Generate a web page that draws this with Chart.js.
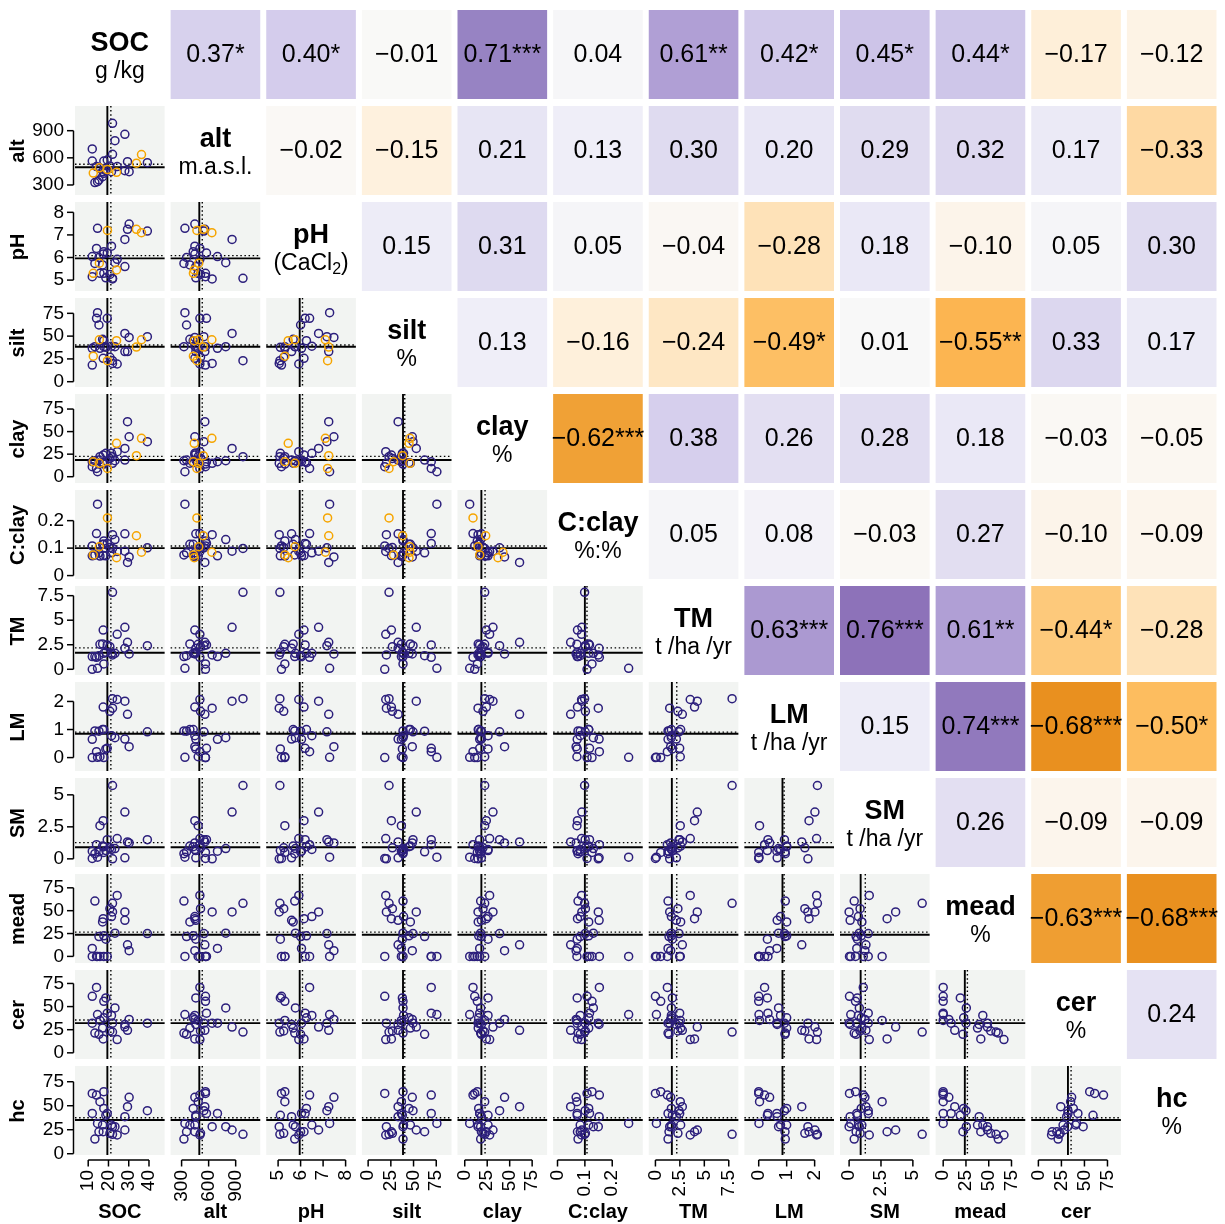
<!DOCTYPE html>
<html>
<head>
<meta charset="utf-8">
<script src="https://cdn.jsdelivr.net/npm/chart.js@4.4.1/dist/chart.umd.min.js"></script>
<style>
  html, body { margin: 0; padding: 0; background: #fff; }
  #wrap { width: 1225px; height: 1224px; }
</style>
</head>
<body>
<div id="wrap"><canvas id="pairs-chart" width="1225" height="1224"></canvas></div>
<script>
const VARS = ['SOC', 'alt', 'pH', 'silt', 'clay', 'C:clay', 'TM', 'LM', 'SM', 'mead', 'cer', 'hc'];
const UNITS = ['g /kg', 'm.a.s.l.', '(CaCl2)', '%', '%', '%:%', 't /ha /yr', 't /ha /yr', 't /ha /yr', '%', '%', '%'];

// 24 sites with full data, then 6 sites (orange) with soil data only
const group = [0,0,0,0,0,0,0,0,0,0, 0,0,0,0,0,0,0,0,0,0, 0,0,0,0, 1,1,1,1,1,1];

const SOC   = [12.0,12.0,13.3,14.1,14.6,15.3,15.8,17.1,17.4,17.7, 17.7,18.7,19.4,20.7,21.5,22.0,22.0,23.2,24.3,28.1, 28.1,29.4,30.2,39.2, 12.5,15.5,19.5,24.0,33.8,36.3];
const alt   = [698,565,326,503,337,355,484,392,447,429, 565,458,576,510,447,981,639,790,503,860, 458,558,447,547, 431,490,470,440,541,636];
const pH    = [6.04,5.15,5.74,6.4,7.29,6.0,5.3,5.67,6.15,6.26, 5.3,5.1,6.2,5.25,6.5,5.08,5.05,5.77,5.92,6.8, 5.6,7.25,7.48,7.17, 5.3,5.75,7.2,5.45,7.25,7.1];
const silt  = [36.6,18.3,38.4,69.5,75.7,62.2,36.6,46.5,25.6,45, 38.4,37.7,69.5,26.7,39,23,20.1,38.4,19.4,53, 33,33,48.6,49.4, 28,46,23,45,38,46];
const clay  = [16.6,11.1,17.7,9.2,5.5,18.5,22.2,15,24,15.5, 14,25.9,16.6,20.3,25.9,22.2,14.8,17.7,27.7,31.4, 18.5,61,44.3,38.8, 16.6,14.8,9.2,37,23.3,42.5];
const Cclay = [0.072,0.108,0.075,0.153,0.26,0.083,0.071,0.114,0.073,0.114, 0.126,0.072,0.117,0.102,0.083,0.099,0.149,0.131,0.088,0.089, 0.152,0.048,0.068,0.101, 0.075,0.105,0.21,0.065,0.145,0.085];
const TM    = [1.29,0.0,1.29,1.22,0.1,1.39,2.54,2.58,4.0,1.63, 0.54,1.73,2.48,2.3,1.63,7.84,1.46,1.63,3.56,4.28, 2.14,2.75,1.56,2.41, null,null,null,null,null,null];
const LM    = [0.65,0,0.95,0.21,0.01,0.94,0.03,1.0,1.8,1.0, 0,0.31,0.33,1.65,0.78,2.1,1.76,0.71,2.07,2.01, 0.66,1.54,0.39,0.92, null,null,null,null,null,null];
const SM    = [0.6,0.03,0.4,1.11,0.13,0.55,2.59,1.0,2.98,0.95, 0.5,0.65,1.5,0.86,0.73,5.73,0,0.8,1.58,3.65, 0.08,1.32,1.24,1.5, null,null,null,null,null,null];
const mead  = [8.7,0,60.5,0,0,21.7,0,37.7,41.3,22.5, 0,18.8,0,52.2,43.5,58,48.6,25.4,66.7,48.6, 39.5,12.7,6.2,25, null,null,null,null,null,null];
const cer   = [32.1,61.1,21.4,70.7,41.4,20.0,35,26.8,15,37.9, 55.7,59.3,42.9,23.6,40.4,22.5,32,48.6,14.3,27.9, 30.7,24.3,36.1,32.1, null,null,null,null,null,null];
const hc    = [42,62.8,15.3,61.1,31.6,22.9,54.2,29.9,22.9,47.2, 64.6,40,42,21.2,29.9,20.2,28.2,28.2,19.5,24.7, 38.6,49,58.7,44.8, null,null,null,null,null,null];

const columns = [SOC, alt, pH, silt, clay, Cclay, TM, LM, SM, mead, cer, hc];

// axis ranges and tick labels
const axisMin = [2, 145, 4.34, -10.2, -11.4, -0.027, -0.99, -0.62, -0.95, -11.6, -11, -5.5];
const axisMax = [49.2, 1206, 8.59, 95.1, 95, 0.3225, 8.79, 2.80, 6.55, 93.4, 92.8, 94.5];
const tickVals = [
  [10, 20, 30, 40], [300, 600, 900], [5, 6, 7, 8], [0, 25, 50, 75], [0, 25, 50, 75], [0, 0.1, 0.2],
  [0, 2.5, 5, 7.5], [0, 1, 2], [0, 2.5, 5], [0, 25, 50, 75], [0, 25, 50, 75], [0, 25, 50, 75]
];

// correlations, upper triangle, row by row
const corrR = [
  [0.37, 0.40, -0.01, 0.71, 0.04, 0.61, 0.42, 0.45, 0.44, -0.17, -0.12],
  [-0.02, -0.15, 0.21, 0.13, 0.30, 0.20, 0.29, 0.32, 0.17, -0.33],
  [0.15, 0.31, 0.05, -0.04, -0.28, 0.18, -0.10, 0.05, 0.30],
  [0.13, -0.16, -0.24, -0.49, 0.01, -0.55, 0.33, 0.17],
  [-0.62, 0.38, 0.26, 0.28, 0.18, -0.03, -0.05],
  [0.05, 0.08, -0.03, 0.27, -0.10, -0.09],
  [0.63, 0.76, 0.61, -0.44, -0.28],
  [0.15, 0.74, -0.68, -0.50],
  [0.26, -0.09, -0.09],
  [-0.63, -0.68],
  [0.24]
];
const corrStars = [
  ['*', '*', '', '***', '', '**', '*', '*', '*', '', ''],
  ['', '', '', '', '', '', '', '', '', ''],
  ['', '', '', '', '', '', '', '', ''],
  ['', '', '', '*', '', '**', '', ''],
  ['***', '', '', '', '', '', ''],
  ['', '', '', '', '', ''],
  ['***', '***', '**', '*', ''],
  ['', '***', '***', '*'],
  ['', '', ''],
  ['***', '***'],
  ['']
];

const FONT = '"Liberation Sans", Arial, Helvetica, sans-serif';
const NAVY = '#2c1f7c';
const ORANGE = '#f6a500';
const CELL_BG = '#f2f4f2';
const COLOR_STOPS = [
  [-0.70, [230, 138, 23]], [-0.62, [240, 161, 54]], [-0.55, [252, 181, 81]], [-0.50, [253, 189, 95]],
  [-0.44, [253, 201, 123]], [-0.33, [254, 217, 163]], [-0.28, [254, 226, 184]], [-0.17, [254, 239, 217]],
  [-0.09, [252, 245, 236]], [0, [249, 249, 248]], [0.13, [239, 238, 248]], [0.30, [223, 219, 240]],
  [0.40, [212, 204, 236]], [0.45, [205, 196, 232]], [0.61, [176, 159, 213]], [0.71, [151, 131, 195]],
  [0.76, [141, 114, 185]]
];

function corrColor(r) {
  if (r <= COLOR_STOPS[0][0]) return `rgb(${COLOR_STOPS[0][1].join(',')})`;
  for (let k = 1; k < COLOR_STOPS.length; k++) {
    const [r1, c1] = COLOR_STOPS[k];
    const [r0, c0] = COLOR_STOPS[k - 1];
    if (r <= r1) {
      const t = (r - r0) / (r1 - r0);
      const c = c0.map((v, n) => Math.round(v + (c1[n] - v) * t));
      return `rgb(${c.join(',')})`;
    }
  }
  return `rgb(${COLOR_STOPS[COLOR_STOPS.length - 1][1].join(',')})`;
}

function median(arr) {
  const s = arr.filter(v => v != null).sort((a, b) => a - b);
  const n = s.length;
  return n % 2 ? s[(n - 1) / 2] : (s[n / 2 - 1] + s[n / 2]) / 2;
}
function mean(arr) {
  const s = arr.filter(v => v != null);
  return s.reduce((a, b) => a + b, 0) / s.length;
}
const medians = columns.map(median);
const means = columns.map(mean);

// one scatter dataset per lower panel
const datasets = [];
for (let i = 1; i < 12; i++) {
  for (let j = 0; j < i; j++) {
    const pts = [];
    for (let k = 0; k < group.length; k++) {
      const xv = columns[j][k];
      const yv = columns[i][k];
      if (xv == null || yv == null) continue;
      pts.push({ x: xv, y: yv, g: group[k] });
    }
    datasets.push({
      data: pts,
      xAxisID: 'x' + j,
      yAxisID: 'y' + i,
      pointRadius: 4,
      pointHoverRadius: 4,
      pointBorderWidth: 1.5,
      pointBackgroundColor: 'rgba(0,0,0,0)',
      pointBorderColor: ctx => (ctx.raw && ctx.raw.g ? ORANGE : NAVY),
    });
  }
}

const scales = {};
for (let i = 0; i < 12; i++) {
  scales['y' + i] = {
    type: 'linear',
    position: 'left',
    stack: 'rows',
    stackWeight: 1,
    weight: 11 - i,
    min: axisMin[i],
    max: axisMax[i],
    afterFit: s => { s.width = 72; s.paddingTop = 0; s.paddingBottom = 0; },
    afterBuildTicks: s => { s.ticks = tickVals[i].map(v => ({ value: v })); },
    ticks: {
      display: i > 0,
      autoSkip: false,
      color: '#000',
      padding: 1,
      font: { size: 19, family: FONT },
      callback: v => String(v),
    },
    grid: { display: i > 0, drawOnChartArea: false, drawTicks: true, tickLength: 7, color: 'rgba(0,0,0,0)' },
    border: { display: false },
    title: {
      display: i > 0,
      text: VARS[i],
      color: '#000',
      font: { size: 20, weight: 'bold', family: FONT },
      padding: { top: 6, bottom: 0 },
    },
  };
}
for (let j = 0; j < 12; j++) {
  scales['x' + j] = {
    type: 'linear',
    position: 'bottom',
    stack: 'cols',
    stackWeight: 1,
    weight: j,
    min: axisMin[j],
    max: axisMax[j],
    afterFit: s => { s.height = 65; s.paddingLeft = 0; s.paddingRight = 0; },
    afterBuildTicks: s => { s.ticks = tickVals[j].map(v => ({ value: v })); },
    ticks: {
      display: j < 11,
      autoSkip: false,
      minRotation: 90,
      maxRotation: 90,
      color: '#000',
      padding: 4,
      font: { size: 19, family: FONT },
      callback: v => String(v),
    },
    grid: { display: j < 11, drawOnChartArea: false, drawTicks: true, tickLength: 7, color: 'rgba(0,0,0,0)' },
    border: { display: false },
    title: {
      display: j < 11,
      text: VARS[j],
      color: '#000',
      font: { size: 20, weight: 'bold', family: FONT },
      padding: { top: 0, bottom: 0 },
    },
  };
}

function strokeLine(ctx, x1, y1, x2, y2) {
  ctx.beginPath();
  ctx.moveTo(x1, y1);
  ctx.lineTo(x2, y2);
  ctx.stroke();
}

const pairsPlugin = {
  id: 'pairsPanels',
  beforeDatasetsDraw(chart) {
    const ctx = chart.ctx;
    ctx.save();
    const box = (i, j) => {
      const xs = chart.scales['x' + j];
      const ys = chart.scales['y' + i];
      return { xs, ys, L: xs.left + 3, R: xs.right - 3, T: ys.top + 3, B: ys.bottom - 4 };
    };

    // panels
    for (let i = 0; i < 12; i++) {
      for (let j = 0; j < 12; j++) {
        const { xs, ys, L, R, T, B } = box(i, j);
        if (i > j) {
          ctx.fillStyle = CELL_BG;
          ctx.fillRect(L, T, R - L, B - T);
          const ax = xs.getPixelForValue(means[j]);
          const ay = ys.getPixelForValue(means[i]);
          const mx = xs.getPixelForValue(medians[j]);
          const my = ys.getPixelForValue(medians[i]);
          ctx.strokeStyle = '#000';
          ctx.lineWidth = 1.4;
          ctx.setLineDash([1.5, 2.6]);
          strokeLine(ctx, ax, T, ax, B);
          strokeLine(ctx, L, ay, R, ay);
          ctx.setLineDash([]);
          ctx.lineWidth = 1.9;
          strokeLine(ctx, mx, T, mx, B);
          strokeLine(ctx, L, my, R, my);
        } else if (i < j) {
          ctx.fillStyle = corrColor(corrR[i][j - i - 1]);
          ctx.fillRect(L, T, R - L, B - T);
        }
      }
    }

    // correlation labels
    ctx.fillStyle = '#000';
    ctx.textAlign = 'center';
    ctx.textBaseline = 'middle';
    ctx.font = `25px ${FONT}`;
    for (let i = 0; i < 12; i++) {
      for (let j = i + 1; j < 12; j++) {
        const { L, R, T, B } = box(i, j);
        const r = corrR[i][j - i - 1];
        const txt = (r < 0 ? '\u2212' : '') + Math.abs(r).toFixed(2) + corrStars[i][j - i - 1];
        ctx.fillText(txt, (L + R) / 2, (T + B) / 2 + 1);
      }
    }

    // diagonal names and units
    ctx.textBaseline = 'alphabetic';
    for (let i = 0; i < 12; i++) {
      const { L, R, T, B } = box(i, i);
      const cx = (L + R) / 2;
      const cy = (T + B) / 2;
      ctx.font = `bold 27px ${FONT}`;
      ctx.textAlign = 'center';
      ctx.fillText(VARS[i], cx, cy - 4);
      ctx.font = `23px ${FONT}`;
      if (UNITS[i] === '(CaCl2)') {
        const a = '(CaCl', b = '2', c = ')';
        const wa = ctx.measureText(a).width;
        const wc = ctx.measureText(c).width;
        ctx.font = `16px ${FONT}`;
        const wb = ctx.measureText(b).width;
        const x0 = cx - (wa + wb + wc) / 2;
        ctx.textAlign = 'left';
        ctx.font = `23px ${FONT}`;
        ctx.fillText(a, x0, cy + 23);
        ctx.font = `16px ${FONT}`;
        ctx.fillText(b, x0 + wa, cy + 27);
        ctx.font = `23px ${FONT}`;
        ctx.fillText(c, x0 + wa + wb, cy + 23);
      } else {
        ctx.fillText(UNITS[i], cx, cy + 23);
      }
    }

    // axis lines and tick marks, spanning the tick range only
    ctx.strokeStyle = '#000';
    ctx.lineWidth = 1.5;
    ctx.setLineDash([]);
    for (let i = 1; i < 12; i++) {
      const ys = chart.scales['y' + i];
      const t = tickVals[i];
      const x = ys.right + 1.5;
      strokeLine(ctx, x, ys.getPixelForValue(t[0]), x, ys.getPixelForValue(t[t.length - 1]));
      t.forEach(v => {
        const y = ys.getPixelForValue(v);
        strokeLine(ctx, x - 6.5, y, x, y);
      });
    }
    for (let j = 0; j < 11; j++) {
      const xs = chart.scales['x' + j];
      const t = tickVals[j];
      const y = xs.top + 1;
      strokeLine(ctx, xs.getPixelForValue(t[0]), y, xs.getPixelForValue(t[t.length - 1]), y);
      t.forEach(v => {
        const x = xs.getPixelForValue(v);
        strokeLine(ctx, x, y, x, y + 6.5);
      });
    }
    ctx.restore();
  },
};

const pairsConfig = {
  type: 'scatter',
  data: { datasets },
  options: {
    responsive: false,
    animation: false,
    devicePixelRatio: 1,
    events: [],
    layout: { padding: { top: 7, right: 1, left: 0, bottom: 0 } },
    plugins: {
      legend: { display: false },
      tooltip: { enabled: false },
      title: { display: false },
    },
    scales,
  },
  plugins: [pairsPlugin],
};

const pairsCanvas = document.getElementById('pairs-chart');
new Chart(pairsCanvas, pairsConfig);
</script>
</body>
</html>
